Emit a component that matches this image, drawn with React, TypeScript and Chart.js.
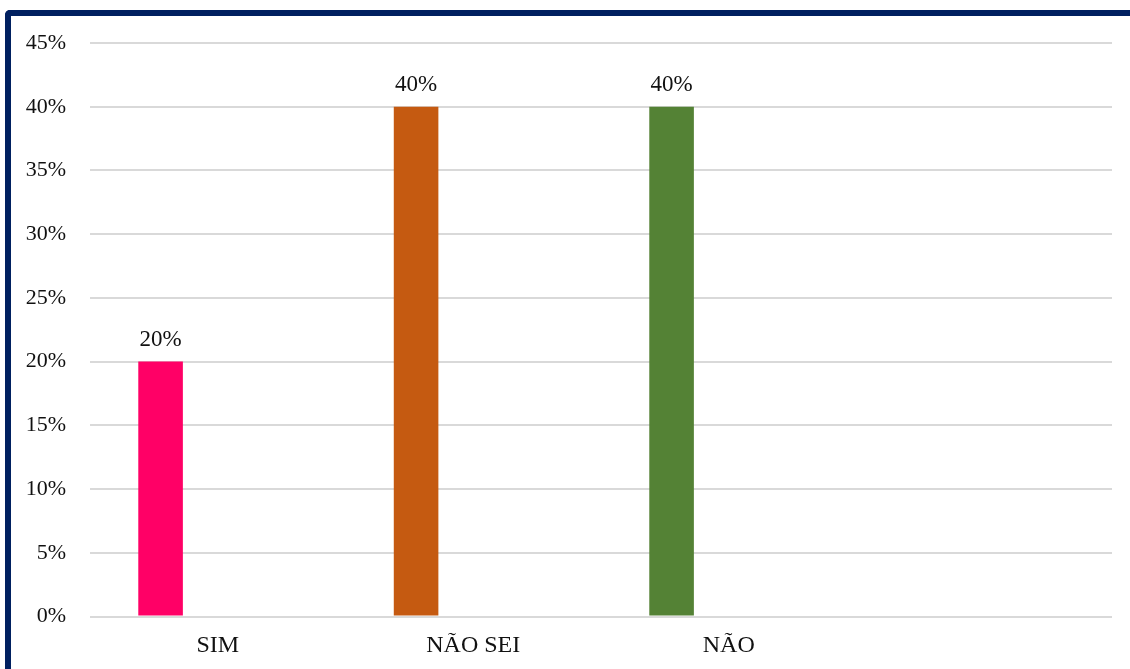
import React, { useEffect, useRef } from "react";
import { Chart, registerables } from "chart.js";

Chart.register(...registerables);

// Survey answers (percent of respondents)
const categories = ["SIM", "NÃO SEI", "NÃO", ""];
const shares: (number | null)[] = [20, 40, 40, null];
const barColors = ["#FF0066", "#C55A11", "#548235", "#A5A5A5"];
const yTicks = [0, 5, 10, 15, 20, 25, 30, 35, 40, 45];

const FONT = '"Liberation Serif", "Times New Roman", serif';

// Writes the percentage above each bar
const valueLabels = {
  id: "valueLabels",
  afterDatasetsDraw(chart: Chart) {
    const { ctx } = chart;
    ctx.save();
    ctx.font = `23px ${FONT}`;
    ctx.fillStyle = "#111";
    ctx.textAlign = "center";
    ctx.textBaseline = "alphabetic";
    chart.data.datasets.forEach((ds, di) => {
      const meta = chart.getDatasetMeta(di);
      meta.data.forEach((el: any, i) => {
        const v = ds.data[i] as number | null;
        if (v == null) return;
        ctx.fillText(`${v}%`, el.x, el.y - 16);
      });
    });
    ctx.restore();
  },
};

export default function App() {
  const ref = useRef<HTMLCanvasElement>(null);

  useEffect(() => {
    if (!ref.current) return;
    const chart = new Chart(ref.current, {
      type: "bar",
      data: {
        labels: categories,
        datasets: [
          {
            label: "Respostas",
            data: shares,
            backgroundColor: barColors,
            barPercentage: 0.39,
            categoryPercentage: 0.895,
          },
          {
            label: "",
            data: categories.map(() => null),
            backgroundColor: "transparent",
            barPercentage: 0.39,
            categoryPercentage: 0.895,
          },
        ],
      },
      options: {
        animation: false,
        responsive: false,
        maintainAspectRatio: false,
        layout: { padding: { left: 0, right: 18, top: 43, bottom: 0 } },
        plugins: {
          legend: { display: false },
          tooltip: { enabled: false },
        },
        scales: {
          x: {
            grid: { display: false, drawTicks: false },
            border: { display: false },
            ticks: {
              font: { family: FONT, size: 24 },
              color: "#111",
              padding: 15,
              maxRotation: 0,
            },
            afterFit(scale: any) {
              scale.height = 52.5;
            },
          },
          y: {
            min: 0,
            max: 45,
            afterBuildTicks(scale: any) {
              scale.ticks = yTicks.map((v) => ({ value: v }));
            },
            grid: { color: "#d9d9d9", lineWidth: 2, drawTicks: false },
            border: { display: false },
            ticks: {
              font: { family: FONT, size: 22 },
              color: "#111",
              padding: 24,
              callback: (v: any) => `${v}%`,
            },
            afterFit(scale: any) {
              scale.width = 90;
            },
          },
        },
      },
      plugins: [valueLabels],
    });
    return () => chart.destroy();
  }, []);

  return (
    <div
      style={{
        position: "fixed",
        left: 0,
        top: 0,
        width: 1130,
        height: 669,
        overflow: "hidden",
        background: "#fff",
      }}
    >
      <div
        style={{
          position: "absolute",
          left: 5,
          top: 10,
          width: 1300,
          height: 900,
          borderTop: "6px solid #002060",
          borderLeft: "6px solid #002060",
          borderTopLeftRadius: 5,
          boxSizing: "border-box",
        }}
      />
      <canvas
        ref={ref}
        width={1130}
        height={669}
        style={{ position: "absolute", left: 0, top: 0 }}
      />
    </div>
  );
}
